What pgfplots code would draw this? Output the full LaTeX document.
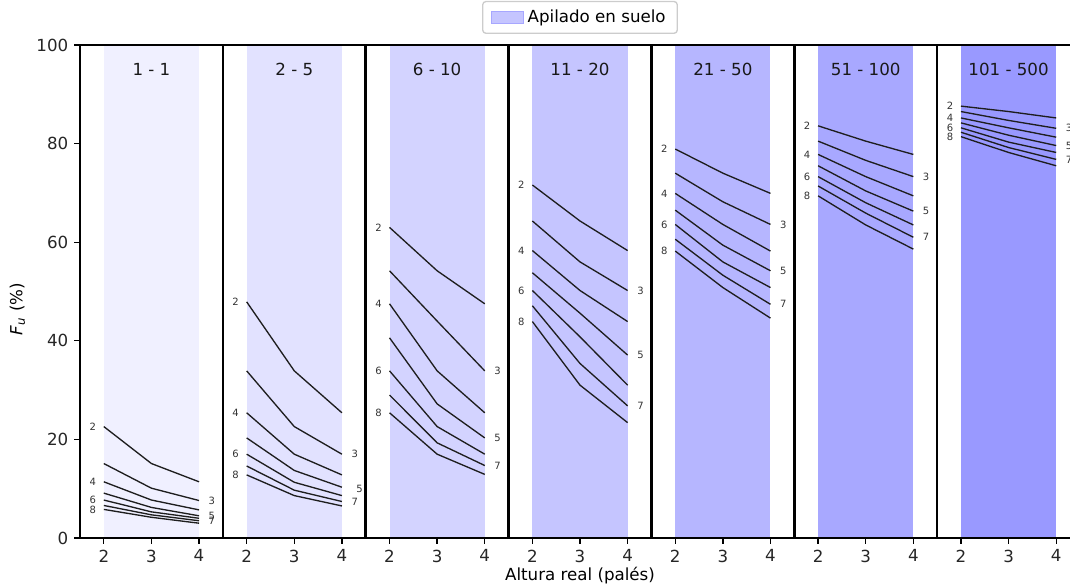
\documentclass[border=0pt]{standalone}
\usepackage{fontspec}
\setmainfont{DejaVu Sans}
\usepackage{pgfplots}
\usepackage{pgfplotstable}
\pgfplotsset{compat=1.18}

% span shades, one per range of references
\definecolor{span1}{RGB}{240,240,255}
\definecolor{span2}{RGB}{226,226,255}
\definecolor{span3}{RGB}{211,211,255}
\definecolor{span4}{RGB}{197,197,255}
\definecolor{span5}{RGB}{182,182,255}
\definecolor{span6}{RGB}{168,168,255}
\definecolor{span7}{RGB}{153,153,255}
\definecolor{curve}{RGB}{30,30,30}

% F_u (%) by real height h; columns l2..l8 are the curve labels
\pgfplotstableread{
h  l2   l3   l4   l5   l6   l7   l8
2  22.6 15.1 11.4 9.1  7.7  6.6  5.8
3  15.1 10.1 7.7  6.2  5.3  4.7  4.2
4  11.4 7.6  5.7  4.5  4.0  3.5  3.0
}\tabA
\pgfplotstableread{
h  l2   l3   l4   l5   l6   l7   l8
2  47.9 33.9 25.4 20.3 17.0 14.6 12.8
3  33.9 22.6 17.0 13.7 11.3 9.7  8.6
4  25.4 17.0 12.8 10.3 8.6  7.4  6.5
}\tabB
\pgfplotstableread{
h  l2   l3   l4   l5   l6   l7   l8
2  63.0 54.2 47.5 40.6 33.9 29.0 25.4
3  54.2 44.0 33.9 27.2 22.6 19.3 17.0
4  47.5 33.9 25.4 20.3 17.0 14.7 12.9
}\tabC
\pgfplotstableread{
h  l2   l3   l4   l5   l6   l7   l8
2  71.6 64.3 58.3 53.8 50.2 47.1 43.9
3  64.3 56.0 50.2 45.6 40.8 35.4 31.0
4  58.3 50.2 43.9 37.1 31.0 26.8 23.4
}\tabD
\pgfplotstableread{
h  l2   l3   l4   l5   l6   l7   l8
2  78.9 74.0 69.9 66.5 63.6 60.6 58.2
3  74.0 68.2 63.6 59.4 56.0 53.3 50.8
4  69.9 63.6 58.2 54.2 50.8 47.4 44.6
}\tabE
\pgfplotstableread{
h  l2   l3   l4   l5   l6   l7   l8
2  83.6 80.5 77.8 75.5 73.3 71.4 69.4
3  80.5 76.6 73.3 70.4 68.0 65.9 63.5
4  77.8 73.3 69.4 66.3 63.5 61.0 58.6
}\tabF
\pgfplotstableread{
h  l2   l3   l4   l5   l6   l7   l8
2  87.6 86.5 85.2 84.2 83.2 82.3 81.4
3  86.5 84.7 83.2 81.7 80.3 79.2 78.2
4  85.2 83.1 81.3 79.6 78.2 76.8 75.5
}\tabG

\tikzset{
  lblL/.style={font=\fontsize{6}{7}\selectfont, text=black!80, xshift=-6.6pt, anchor=center},
  lblR/.style={font=\fontsize{6}{7}\selectfont, text=black!80, xshift=7.7pt, anchor=center},
  paneltitle/.style={font=\fontsize{10}{12}\selectfont, text=black!90, anchor=base},
}
\pgfplotsset{
  panel/.style={
    anchor=south west, scale only axis,
    width=85.714pt, height=295.8pt,
    xmin=1.5, xmax=4.5, ymin=0, ymax=100,
    xtick={2,3,4}, ytick=\empty,
    tick align=outside, xtick pos=bottom, ytick pos=left,
    major tick length=3.5pt,
    every tick/.style={black, line width=0.8pt},
    separate axis lines,
    axis line style={black, line width=0.8pt},
    axis on top,
    tick label style={font=\fontsize{10}{12}\selectfont, text=black!85},
    /pgf/number format/assume math mode=true,
    clip=false,
  },
  % shared border between neighbouring panels
  inner/.style={panel, y axis line style={line width=1.6pt}},
  curveline/.style={curve, line width=0.8pt, forget plot},
}

% the seven curves of one range, labelled at alternate ends
\newcommand{\curves}[1]{%
  \addplot[curveline] table[x=h,y=l2]{#1} node[pos=0,lblL]{2};
  \addplot[curveline] table[x=h,y=l3]{#1} node[pos=1,lblR]{3};
  \addplot[curveline] table[x=h,y=l4]{#1} node[pos=0,lblL]{4};
  \addplot[curveline] table[x=h,y=l5]{#1} node[pos=1,lblR]{5};
  \addplot[curveline] table[x=h,y=l6]{#1} node[pos=0,lblL]{6};
  \addplot[curveline] table[x=h,y=l7]{#1} node[pos=1,lblR]{7};
  \addplot[curveline] table[x=h,y=l8]{#1} node[pos=0,lblL]{8};
}

\begin{document}
\begin{tikzpicture}
\useasboundingbox (0,0) rectangle (642pt,352.2pt);
\clip (0,0) rectangle (642pt,352.2pt);

\begin{axis}[panel, at={(48pt,29.4pt)},
  ytick={0,20,40,60,80,100},
  ylabel={\textit{F}\textsubscript{\textit{u}} (\%)},
  ylabel style={font=\fontsize{10}{12}\selectfont, at={(ticklabel cs:0.4645)}}]
  \addplot[fill=span1, draw=none, forget plot] coordinates {(2,100) (4,100)} \closedcycle;
  \curves{\tabA}
  \node[paneltitle] at (axis cs:3,93.8) {1 - 1};
\end{axis}

\begin{axis}[inner, at={(133.714pt,29.4pt)}]
  \addplot[fill=span2, draw=none, forget plot] coordinates {(2,100) (4,100)} \closedcycle;
  \curves{\tabB}
  \node[paneltitle] at (axis cs:3,93.8) {2 - 5};
\end{axis}

\begin{axis}[inner, at={(219.429pt,29.4pt)}]
  \addplot[fill=span3, draw=none, forget plot] coordinates {(2,100) (4,100)} \closedcycle;
  \curves{\tabC}
  \node[paneltitle] at (axis cs:3,93.8) {6 - 10};
\end{axis}

\begin{axis}[inner, at={(305.143pt,29.4pt)},
  xlabel={Altura real (palés)},
  xlabel style={font=\fontsize{10}{12}\selectfont, at={(0.5,0)}, anchor=base, yshift=-25.4pt},
  legend style={at={(0.5,1)}, anchor=south, yshift=6.6pt,
    draw=black!20, line width=0.8pt, rounded corners=2pt,
    font=\fontsize{10}{12}\selectfont, inner xsep=5pt, inner ysep=3pt},
  legend image code/.code={\draw[fill=span4, draw=span4!85!blue, rounded corners=0pt, line width=0.6pt]
    (0pt,-3.4pt) rectangle (19.4pt,3.4pt);}]
  \addplot[fill=span4, draw=none] coordinates {(2,100) (4,100)} \closedcycle;
  \addlegendentry{Apilado en suelo}
  \curves{\tabD}
  \node[paneltitle] at (axis cs:3,93.8) {11 - 20};
\end{axis}

\begin{axis}[inner, at={(390.857pt,29.4pt)}]
  \addplot[fill=span5, draw=none, forget plot] coordinates {(2,100) (4,100)} \closedcycle;
  \curves{\tabE}
  \node[paneltitle] at (axis cs:3,93.8) {21 - 50};
\end{axis}

\begin{axis}[inner, at={(476.571pt,29.4pt)}]
  \addplot[fill=span6, draw=none, forget plot] coordinates {(2,100) (4,100)} \closedcycle;
  \curves{\tabF}
  \node[paneltitle] at (axis cs:3,93.8) {51 - 100};
\end{axis}

\begin{axis}[inner, at={(562.286pt,29.4pt)}]
  \addplot[fill=span7, draw=none, forget plot] coordinates {(2,100) (4,100)} \closedcycle;
  \curves{\tabG}
  \node[paneltitle] at (axis cs:3,93.8) {101 - 500};
\end{axis}
\end{tikzpicture}
\end{document}
